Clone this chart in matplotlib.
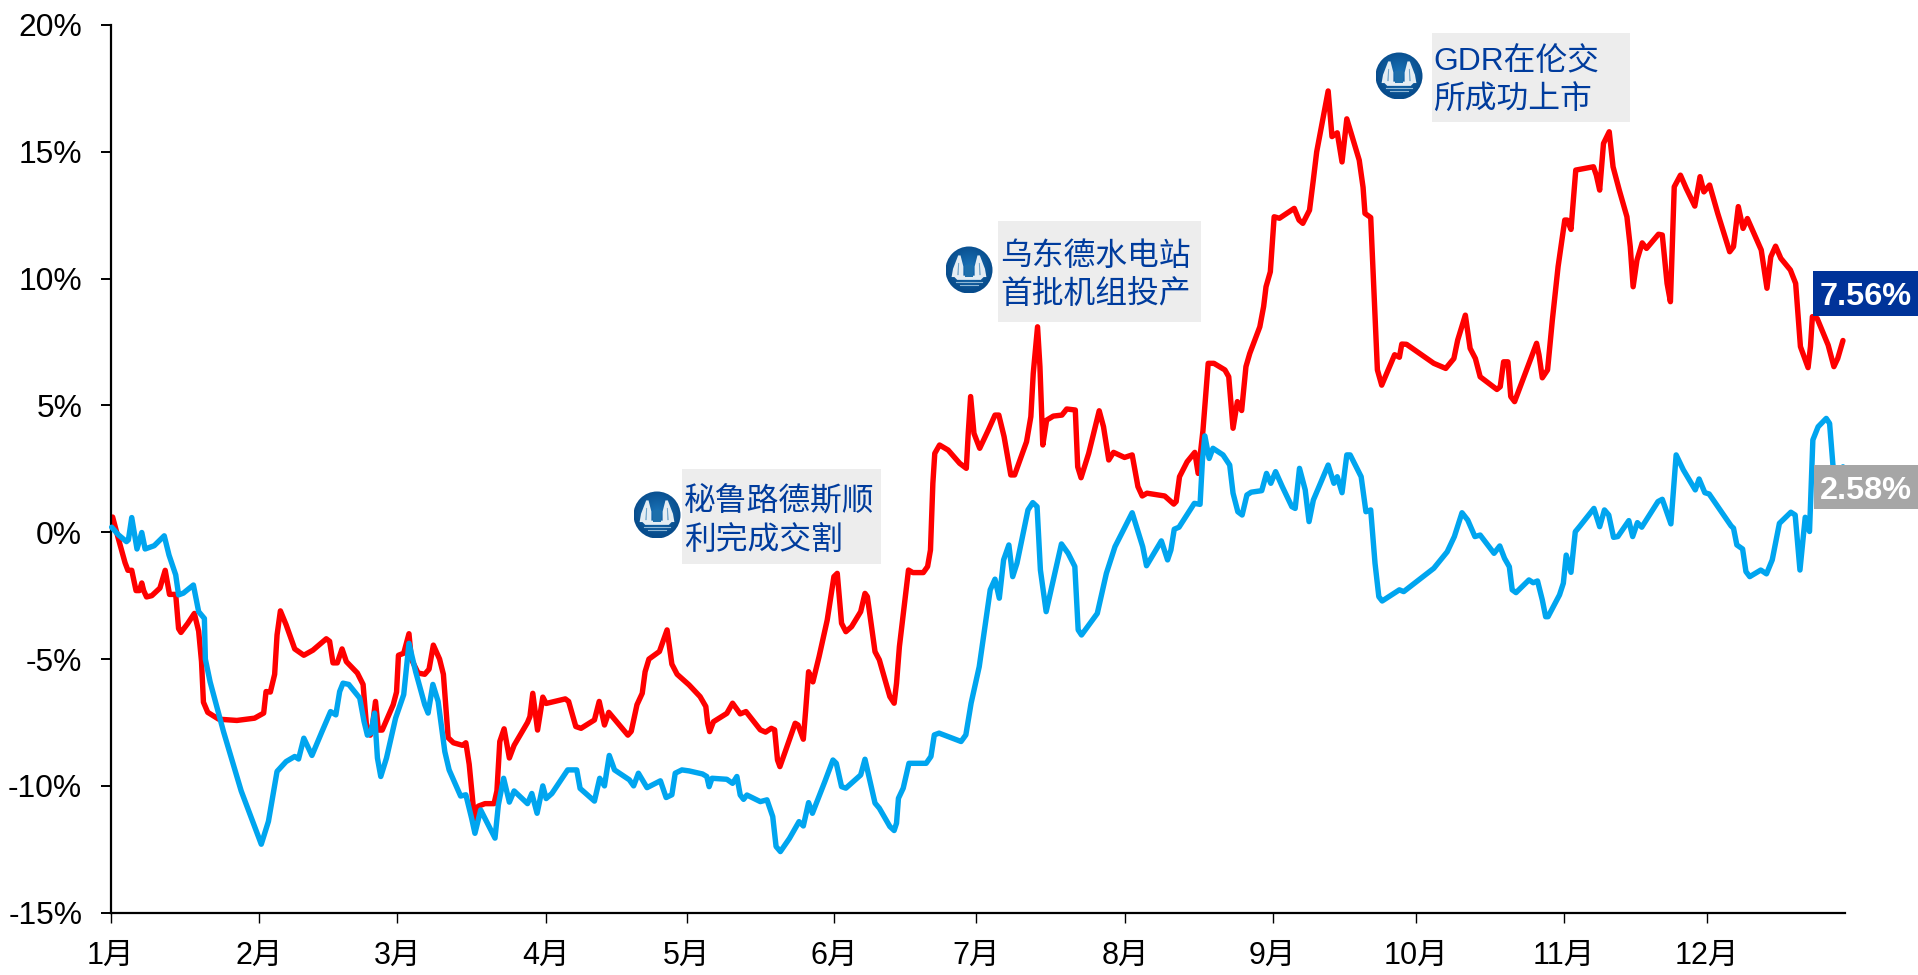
import numpy as np
import matplotlib
matplotlib.use("Agg")
import matplotlib.pyplot as plt
from matplotlib.patches import Circle, Rectangle, Polygon

FONT = ['Liberation Sans', 'Noto Sans CJK SC']
plt.rcParams['font.family'] = FONT

months = ['1月','2月','3月','4月','5月','6月','7月','8月','9月','10月','11月','12月']
month_days = [0,31,60,91,120.5,151.3,181,212.3,243.1,273,304,333.9]
y_ticks = [-15,-10,-5,0,5,10,15,20]
y_labels = ['-15%','-10%','-5%','0%','5%','10%','15%','20%']

red_days = [0.4,1.6,3,3.6,4.4,5.3,6,6.5,6.9,7.5,8.6,10.3,11.4,12.3,13.6,14.2,14.7,16.1,17.5,18.4,19,19.4,20.3,22.6,26.4,30.1,32,32.5,33.4,34.3,34.8,35.5,36.7,38.5,40.4,42.3,45.1,45.8,46.5,47.4,48.4,49.3,51.6,52.8,53.5,54.3,54.7,55.4,56,56.8,59.1,59.8,60.2,61.3,62.4,62.9,64.3,65.7,66.6,67.5,68.8,69.6,70.6,71.7,73.6,74.3,75,76.1,76.9,78.3,80.2,80.8,81.4,82.3,83.4,84.4,87.2,87.7,88.3,89.3,90.4,91.1,95.1,95.8,97.3,98.4,101.2,102.2,103.3,104.2,108.2,108.9,110.1,111.2,111.8,112.6,114.8,116.4,117.4,118.5,
121,123.3,124.5,124.9,125.3,126.1,128.9,130.1,131.7,132.9,135.9,137,138.2,138.9,139.5,140,141,143.2,143.8,144.9,145.4,146,146.9,148.2,149.9,151.3,152,152.9,153.8,155,156.9,157.8,158.3,159.9,160.8,163,163.9,164.4,165,166.9,167.8,170,170.9,171.5,
172,172.4,173.4,175.2,177.6,179,179.4,179.9,180.6,181.8,183.6,185,185.8,186.9,188.3,189.1,191.6,192.5,193,193.9,194.4,195,195.8,197.2,199,200,201.8,202.3,203,204.6,206.8,207.7,208.8,209.8,212.1,213.7,214.9,215.8,216.8,220.5,222.4,222.9,223.6,225.2,226.8,227.5,228.5,229.6,230.8,233.1,233.9,234.8,235.7,236.6,237.5,238.3,240.4,241.2,241.7,242.6,243.4,244.5,247.6,
248.6,249.4,250.8,251.6,252.3,254.7,255.5,256.6,257.6,258.6,261.2,262,262.4,263.6,264.5,265,265.9,268.6,269.6,270.1,271.1,276.8,279.3,281,281.8,283.4,284.4,285.5,286.5,290,290.7,291.4,292.3,292.9,293.7,295.4,298.3,298.8,299.5,300.6,301.6,302.8,304.2,304.7,305.5,306.5,310.2,310.8,311.5,312.3,313.5,314.3,315.6,317.2,317.9,318.5,319.3,320.4,321.3,323.8,324.6,325.6,326.3,327.1,328.4,329.6,331.4,332.5,333.3,334.5,336.2,338.7,339.5,340.5,341.5,342.4,345.3,346.5,347.3,348.3,349.4,351.4,352.5,353.5,355.1,355.6,356,357,359.3,360.5,361.3,362.4]
red_vals = [0.6,-0.25,-1.2,-1.5,-1.5,-2.3,-2.3,-2.0,-2.3,-2.55,-2.5,-2.2,-1.5,-2.45,-2.45,-3.8,-3.95,-3.6,-3.2,-3.9,-5.1,-6.7,-7.1,-7.37,-7.42,-7.33,-7.13,-6.28,-6.3,-5.6,-4.05,-3.1,-3.65,-4.6,-4.85,-4.65,-4.2,-4.3,-5.15,-5.15,-4.6,-5.1,-5.55,-6.0,-7.6,-8,-7.7,-6.67,-7.8,-7.8,-6.8,-6.3,-4.85,-4.77,-4.0,-5,-5.55,-5.6,-5.4,-4.45,-5,-5.6,-8.1,-8.3,-8.4,-8.3,-9.15,-11.3,-10.8,-10.7,-10.7,-10.2,-8.25,-7.75,-8.9,-8.4,-7.5,-7.27,-6.35,-7.8,-6.5,-6.75,-6.57,-6.67,-7.66,-7.73,-7.4,-6.67,-7.6,-7.1,-8,-7.85,-6.8,-6.35,-5.5,-5,-4.7,-3.85,-5.2,-5.6,
-6.02,-6.48,-6.87,-7.53,-7.86,-7.47,-7.14,-6.74,-7.16,-7.07,-7.79,-7.88,-7.73,-7.79,-8.98,-9.24,-8.71,-7.53,-7.6,-8.16,-7,-5.5,-5.9,-4.9,-3.46,-1.75,-1.62,-3.59,-3.92,-3.72,-3.13,-2.41,-2.54,-4.71,-5.03,-6.48,-6.74,-5.95,-4.51,-1.49,-1.59,-1.59,-1.35,-0.7,
1.93,3.11,3.44,3.24,2.72,2.52,3.9,5.35,3.9,3.31,4.03,4.62,4.62,3.77,2.26,2.26,3.57,4.56,6.26,8.1,6.53,3.44,4.42,4.58,4.62,4.86,4.82,2.58,2.15,3.11,4.79,4.16,2.85,3.15,2.95,3.05,1.8,1.43,1.54,1.43,1.11,1.21,2.19,2.78,3.15,2.32,4.0,6.66,6.66,6.4,6.13,4.1,5.15,4.8,6.53,7.05,8.1,8.9,9.68,10.27,12.44,12.38,12.77,
12.31,12.18,12.7,13.9,15.0,17.4,15.6,15.75,14.6,16.3,14.67,13.6,12.57,12.41,8.5,6.4,5.8,7,6.9,7.42,7.41,6.66,6.46,6.85,7.58,8.56,7.25,6.85,6.13,5.63,5.74,6.72,6.72,5.35,5.15,6,7.45,7,6.09,6.4,8.37,10.47,12.31,12.31,11.94,14.28,14.41,14.08,13.49,15.33,15.79,14.41,13.49,12.44,11.26,9.68,10.73,11.41,11.19,11.75,11.72,9.81,9.09,13.62,14.08,13.56,12.86,14.02,13.42,13.69,12.57,11.06,11.26,12.84,11.98,12.37,11.13,9.62,10.86,11.28,10.8,10.34,9.81,7.32,6.49,7.32,8.5,8.43,7.38,6.53,6.85,7.56]

blue_days = [0.2,1.6,3.3,3.7,4.4,5.5,6.5,7.2,9.1,11.2,12.2,13.6,14.2,15.2,17.3,18.4,19.6,19.8,20.8,23.6,27.3,31.5,33,34.8,36.7,38.5,39.3,40.4,42.1,44.2,46,47.1,47.9,48.6,49.8,52.1,53,53.7,54.4,55.2,55.8,56.5,57.7,59.6,61.3,62.4,63.8,65.7,66.4,67.4,68.5,69.9,70.8,73.2,74.3,75.5,76.2,77.4,80.4,81.1,82.2,83.4,84.4,87.2,88.1,89.2,90.4,91.1,92.3,95.6,97.5,98.2,101.2,102.3,103.3,104.3,105.4,108.5,109.4,110.4,112.2,115,116.2,117.4,118.1,119.5,
121,123.8,124.7,125.2,125.8,128.9,130.1,131,131.7,132.4,133.1,135.9,137.3,138.5,139.2,140.1,142,144,144.9,146,146.8,149.4,151.1,151.8,152.9,153.8,156.9,157.8,158.8,159.9,160.8,163,163.9,164.4,164.8,165.8,167,170.6,171.6,172.3,173.3,177.9,178.9,180,181.7,184,185,185.9,186.8,187.9,188.7,189.6,191.9,192.9,193.8,194.5,195.7,198.9,200.3,201.7,202.4,203.1,206.4,208.3,210.1,213.7,215.9,216.7,219.8,221.1,221.8,222.5,223.5,226.7,227.9,
228.4,228.9,229.8,230.6,232.7,234.1,234.8,235.8,236.7,237.7,238.6,240.8,241.8,242.7,243.7,245.1,247.1,247.8,248.7,249.9,250.7,251.6,254.7,255.9,256.6,257.6,258.6,259.3,261.6,262.6,263.6,264.5,265.3,266,269.6,270.5,276.8,279.6,281.1,282.7,283.9,285.4,286.5,289.4,290.6,291.6,292.6,293.2,294,296.7,297.6,298.5,299.5,300.2,300.7,303.1,303.9,304.5,305.5,306.4,307.4,310.3,311.5,312.5,313.4,314.4,315.3,317.6,318.4,319.4,320.3,323.7,324.6,326.4,327.5,329,331.5,332.3,333.5,334.4,339,339.5,340.2,341.4,342.1,342.9,345.2,346.4,347.6,349.1,351.5,352.4,353.4,354.5,355.4,356.1,357.2,358.9,359.6,360.3,361.2,362.4]
blue_vals = [0.2,-0.1,-0.37,-0.3,0.58,-0.66,-0.01,-0.66,-0.53,-0.14,-0.9,-1.68,-2.47,-2.4,-2.08,-3.13,-3.4,-5,-5.9,-7.86,-10.2,-12.3,-11.4,-9.43,-9.04,-8.84,-8.94,-8.12,-8.8,-7.86,-7.07,-7.2,-6.28,-5.95,-6,-6.54,-7.46,-8,-7.92,-7.13,-8.9,-9.63,-8.9,-7.33,-6.4,-4.38,-5.5,-6.8,-7.13,-6,-6.67,-8.65,-9.37,-10.4,-10.35,-11.27,-11.87,-10.95,-12.06,-10.75,-9.7,-10.64,-10.2,-10.7,-10.3,-11.08,-10,-10.5,-10.3,-9.37,-9.37,-10.1,-10.6,-9.7,-10,-8.8,-9.37,-9.76,-10,-9.5,-10.07,-9.8,-10.46,-10.35,-9.5,-9.37,
-9.41,-9.53,-9.63,-10.03,-9.7,-9.74,-9.9,-9.63,-10.36,-10.53,-10.36,-10.62,-10.55,-11.21,-12.39,-12.59,-12.07,-11.41,-11.58,-10.66,-11.08,-9.83,-8.98,-9.11,-10.03,-10.09,-9.57,-8.95,-9.77,-10.68,-10.88,-11.6,-11.76,-11.47,-10.49,-10.09,-9.11,-9.11,-8.84,-7.99,-7.92,-8.25,-7.99,-6.74,-5.3,-2.27,-1.85,-2.6,-1.09,-0.5,-1.75,-1.22,0.88,1.17,1.01,-1.49,-3.13,-0.46,-0.83,-1.35,-3.85,-4.05,-3.2,-1.62,-0.57,0.77,-0.57,-1.32,-0.34,-1.09,-0.7,0.12,0.2,1.14,1.1,
2.85,3.8,2.91,3.31,3.05,2.65,1.54,0.81,0.68,1.47,1.58,1.64,2.32,1.93,2.39,1.8,1.01,0.94,2.52,1.67,0.42,1.27,2.65,1.93,2.19,1.56,3.05,3.05,2.19,0.81,0.88,-1.22,-2.54,-2.71,-2.27,-2.34,-1.42,-0.77,-0.17,0.77,0.48,-0.17,-0.11,-0.83,-0.54,-1.03,-1.36,-2.27,-2.38,-1.88,-1.99,-1.92,-2.67,-3.33,-3.33,-2.47,-2.01,-0.9,-1.58,0.02,0.25,0.94,0.22,0.88,0.68,-0.2,-0.17,0.46,-0.17,0.38,0.2,1.21,1.3,0.33,3.05,2.46,1.67,2.1,1.56,1.51,0.25,0.16,-0.5,-0.66,-1.55,-1.75,-1.49,-1.64,-1.09,0.35,0.79,0.68,-1.49,0.59,0.03,3.64,4.16,4.49,4.29,2.65,2.19,2.58]

W, H = 1918, 975
fig = plt.figure(figsize=(W/100, H/100), dpi=100, facecolor='white')
left, right, top, bottom = 110.7, 1845, 25, 912.7
ax = fig.add_axes([left/W, 1-bottom/H, (right-left)/W, (bottom-top)/H])
ax.plot(red_days, red_vals, color='#FF0000', lw=3.9, solid_joinstyle='round', solid_capstyle='round', zorder=2, clip_on=False)
ax.plot(blue_days, blue_vals, color='#00A5EF', lw=3.9, solid_joinstyle='round', solid_capstyle='round', zorder=3, clip_on=False)
ax.set_xlim(0, (right-left)/4.78)
ax.set_ylim(-15, 20)
ax.set_yticks(y_ticks)
ax.set_yticklabels(y_labels, fontsize=22.9, color='black')
ax.set_xticks(month_days)
ax.set_xticklabels(months, fontsize=22, color='black')
ax.tick_params(axis='y', length=7.5, width=1.4, pad=13)
ax.tick_params(axis='x', length=7.5, width=1.0, pad=13)
for s in ('top', 'right'):
    ax.spines[s].set_visible(False)
for s in ('left', 'bottom'):
    ax.spines[s].set_linewidth(1.6)

ov = fig.add_axes([0, 0, 1, 1], zorder=5)
ov.set_xlim(0, W); ov.set_ylim(H, 0); ov.axis('off'); ov.patch.set_alpha(0)

NAVY = '#003C9D'
notes = [
    ('秘鲁路德斯顺', '利完成交割', (682, 469, 199, 95), (684, 502, 541), (657, 515)),
    ('乌东德水电站', '首批机组投产', (998, 221, 203, 101), (1000, 257, 296), (969, 270)),
    ('GDR在伦交', '所成功上市', (1432, 33, 198, 89), (1433, 62, 101), (1399, 76)),
]

def logo(cx, cy, r=23.5):
    yy, xx = np.mgrid[-1:1:80j, -1:1:80j]
    d = np.sqrt(xx**2 + (yy+0.1)**2)
    c0, c1 = np.array([0.10, 0.45, 0.72]), np.array([0.03, 0.30, 0.55])
    img = c0 + (c1-c0)*np.clip(d, 0, 1)[..., None]
    im = ov.imshow(img, extent=(cx-r, cx+r, cy+r, cy-r), zorder=3, aspect='auto')
    im.set_clip_path(Circle((cx, cy), r, transform=ov.transData))
    def poly(pts, fc):
        ov.add_patch(Polygon([(cx+a*r, cy+b*r) for a, b in pts], closed=True, fc=fc, ec='none', zorder=4))
    for sx in (-1, 1):
        poly([(sx*0.36, -0.62), (sx*0.46, -0.62), (sx*0.68, -0.05), (sx*0.74, 0.3), (sx*0.24, 0.3), (sx*0.24, -0.15)], '#E4EDF3')
        poly([(sx*0.42, -0.3), (sx*0.46, -0.3), (sx*0.5, 0.22), (sx*0.44, 0.22)], '#6FA3C8')
    poly([(-0.68, 0.24), (0.68, 0.24), (0.5, 0.42), (-0.5, 0.42)], '#E4EDF3')
    poly([(-0.16, -0.2), (0.16, -0.2), (0.16, 0.3), (-0.16, 0.3)], '#1D6FAB')
    for b, hw in ((0.53, 0.55), (0.65, 0.38)):
        ov.plot([cx-hw*r, cx+hw*r], [cy+b*r, cy+b*r], color='#8FB8D6', lw=0.8, zorder=4)

for line1, line2, box, txt, centre in notes:
    ov.add_patch(Rectangle((box[0], box[1]), box[2], box[3], fc='#EDEDED', ec='none', zorder=1))
    ov.text(txt[0], txt[1], line1, color=NAVY, fontsize=22.9, va='center', ha='left', family=FONT, zorder=2)
    ov.text(txt[0], txt[2], line2, color=NAVY, fontsize=22.9, va='center', ha='left', family=FONT, zorder=2)
    logo(*centre)

ov.set_xlim(0, W); ov.set_ylim(H, 0)

ov.add_patch(Rectangle((1813, 271), 105, 45, fc='#003399', ec='none', zorder=1))
ov.text(1865.5, 297, '7.56%', color='white', fontsize=23.4, fontweight='bold', ha='center', va='center', family=FONT, zorder=2)
ov.add_patch(Rectangle((1813.6, 465), 104.4, 44, fc='#A6A6A6', ec='none', zorder=1))
ov.text(1865.5, 491, '2.58%', color='white', fontsize=23.4, fontweight='bold', ha='center', va='center', family=FONT, zorder=2)

fig.savefig('out.png', dpi=100)
